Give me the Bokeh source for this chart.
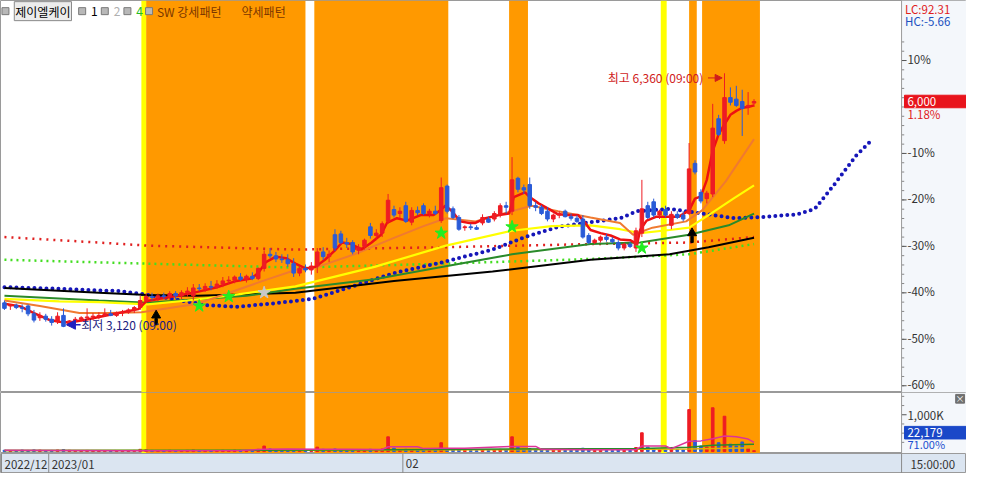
from bokeh.plotting import figure
from bokeh.models import Range1d, BoxAnnotation, Label, Arrow, NormalHead, ColumnDataSource, Span
from bokeh.layouts import column
from bokeh.embed import file_html
from bokeh.resources import INLINE
from bokeh.core.properties import value

# ---------------- data ----------------
opens = [3430, 3390, 3400, 3370, 3390, 3290, 3240, 3260, 3220, 3190,
         3270, 3140, 3200, 3220, 3240, 3250, 3260, 3270, 3290, 3270,
         3300, 3310, 3340, 3370, 3460, 3510, 3500, 3520, 3510, 3550,
         3520, 3560, 3520, 3620, 3610, 3640, 3630, 3670, 3710, 3720,
         3760, 3730, 3770, 3740, 3870, 4050, 4030, 3990, 3980, 3930,
         3810, 3870, 3850, 3900, 4080, 4020, 4300, 4310, 4200, 4200,
         4100, 4150, 4400, 4290, 4320, 4470, 4620, 4570, 4670, 4460,
         4610, 4670, 4570, 4600, 4480, 4920, 4630, 4520, 4390, 4400,
         4390, 4450, 4500, 4500, 4550, 4670, 4600, 5020, 4900, 4940,
         4670, 4650, 4600, 4500, 4550, 4600, 4530, 4510, 4500, 4290,
         4200, 4230, 4270, 4240, 4200, 4130, 4180, 4130, 4320, 4670,
         4720, 4550, 4620, 4420, 4560, 4550, 4570, 5210, 4840, 4760,
         4820, 5780, 5500, 6050, 6030, 6000, 5930, 5980]
highs = [3460, 3410, 3420, 3410, 3410, 3340, 3310, 3290, 3260, 3310,
         3360, 3210, 3250, 3260, 3360, 3300, 3310, 3360, 3340, 3320,
         3340, 3360, 3390, 3520, 3550, 3560, 3550, 3560, 3580, 3580,
         3590, 3630, 3670, 3670, 3680, 3710, 3720, 3760, 3770, 3780,
         3810, 3790, 3820, 3880, 4100, 4130, 4080, 4050, 4050, 4000,
         3900, 3920, 3950, 4130, 4140, 4100, 4370, 4350, 4260, 4230,
         4180, 4250, 4450, 4370, 4470, 4820, 4670, 4650, 4720, 4650,
         4660, 4700, 4630, 4670, 5030, 4940, 4660, 4550, 4420, 4440,
         4420, 4560, 4530, 4600, 4700, 4720, 5290, 5040, 4940, 5030,
         4720, 4680, 4650, 4570, 4600, 4620, 4570, 4550, 4550, 4320,
         4250, 4290, 4310, 4270, 4230, 4200, 4210, 4390, 5000, 4720,
         4760, 4620, 4670, 4600, 4600, 4600, 5470, 5250, 4880, 4860,
         5970, 5830, 6360, 6180, 6200, 6150, 6120, 6030]
lows = [3340, 3340, 3350, 3310, 3260, 3180, 3200, 3190, 3140, 3160,
        3120, 3130, 3160, 3190, 3210, 3210, 3220, 3250, 3260, 3250,
        3260, 3290, 3300, 3340, 3430, 3460, 3450, 3480, 3470, 3480,
        3480, 3510, 3460, 3580, 3570, 3590, 3610, 3630, 3670, 3680,
        3710, 3690, 3720, 3720, 3830, 4000, 3950, 3940, 3890, 3760,
        3770, 3820, 3790, 3810, 3980, 3950, 4090, 4180, 4130, 4050,
        4050, 4110, 4250, 4230, 4270, 4440, 4520, 4510, 4450, 4420,
        4550, 4550, 4520, 4550, 4450, 4570, 4500, 4350, 4350, 4360,
        4360, 4420, 4450, 4470, 4520, 4570, 4550, 4840, 4820, 4630,
        4600, 4550, 4470, 4460, 4510, 4520, 4480, 4450, 4250, 4180,
        4180, 4200, 4210, 4190, 4100, 4100, 4130, 4080, 4270, 4500,
        4520, 4500, 4520, 4370, 4500, 4470, 4550, 5070, 4700, 4700,
        4780, 5560, 5460, 5950, 5930, 5560, 5830, 5930]
closes = [3360, 3400, 3370, 3360, 3290, 3210, 3270, 3220, 3180, 3260,
          3130, 3200, 3220, 3240, 3250, 3260, 3270, 3290, 3270, 3300,
          3310, 3340, 3370, 3460, 3510, 3500, 3520, 3510, 3550, 3520,
          3560, 3580, 3620, 3610, 3640, 3630, 3670, 3710, 3720, 3760,
          3730, 3770, 3740, 3870, 4050, 4030, 3990, 3980, 3930, 3810,
          3870, 3850, 3900, 4080, 4020, 4050, 4130, 4200, 4180, 4080,
          4140, 4230, 4290, 4320, 4440, 4740, 4550, 4600, 4470, 4610,
          4580, 4570, 4600, 4570, 4900, 4600, 4520, 4370, 4400, 4390,
          4370, 4520, 4460, 4570, 4670, 4650, 5000, 4880, 4870, 4670,
          4650, 4570, 4500, 4550, 4570, 4530, 4510, 4470, 4270, 4200,
          4230, 4270, 4240, 4210, 4130, 4180, 4150, 4350, 4630, 4520,
          4550, 4600, 4550, 4560, 4520, 4500, 5140, 5100, 4730, 4830,
          5660, 5580, 6050, 5990, 5950, 5910, 5950, 6000]
volumes = [35000, 28000, 22000, 40000, 30000, 45000, 38000, 26000, 30000, 42000,
           55000, 33000, 25000, 20000, 30000, 24000, 18000, 22000, 27000, 21000,
           19000, 25000, 30000, 60000, 48000, 30000, 26000, 22000, 35000, 25000,
           28000, 32000, 45000, 30000, 26000, 24000, 30000, 35000, 28000, 40000,
           32000, 30000, 28000, 60000, 150000, 70000, 40000, 35000, 38000, 55000,
           40000, 30000, 35000, 120000, 60000, 40000, 70000, 50000, 35000, 45000,
           30000, 40000, 60000, 40000, 70000, 400000, 90000, 50000, 60000, 55000,
           40000, 45000, 35000, 40000, 240000, 80000, 50000, 60000, 35000, 30000,
           25000, 40000, 30000, 45000, 60000, 40000, 400000, 110000, 60000, 80000,
           50000, 40000, 45000, 35000, 30000, 30000, 28000, 35000, 90000, 50000,
           30000, 35000, 28000, 25000, 40000, 30000, 28000, 110000, 510000, 120000,
           80000, 50000, 45000, 60000, 50000, 40000, 1140000, 300000, 150000, 120000,
           1190000, 240000, 960000, 200000, 150000, 260000, 90000, 22179]

# moving-average lines (bar index, price)
ma5_x = [0, 2.7, 5, 7.7, 9.3, 11, 13.5, 16, 19.3, 22.7, 24, 26, 29.3, 32.7, 36, 39.3, 41.8, 43, 44.3, 46,
         47.7, 49.3, 51, 52.7, 54.3, 56, 57.2, 58.8, 60.5, 62.2, 63.8, 64.8, 66.5, 68.2, 70.5, 72.7, 73.8, 74.7, 75.7, 77.2,
         78.8, 79.8, 81.5, 83.8, 85.5, 86.3, 88.2, 89, 90.5, 92.2, 93.8, 95.5, 97.2, 98.2, 99.3, 101, 102.7, 104.3, 106, 107.2,
         107.7, 108.8, 110.5, 112.7, 114.3, 116, 117, 118, 119, 120, 121, 122, 123, 124, 125, 126, 127]
ma5_p = [3420, 3385, 3300, 3210, 3190, 3180, 3210, 3250, 3300, 3350, 3450, 3480, 3520, 3570, 3630, 3710, 3740, 3810, 3950, 4020,
         4000, 3930, 3870, 3890, 3980, 4100, 4200, 4180, 4110, 4200, 4300, 4450, 4510, 4480, 4550, 4550, 4610, 4670, 4610, 4470,
         4450, 4450, 4510, 4550, 4570, 4780, 4840, 4780, 4700, 4630, 4560, 4550, 4550, 4470, 4360, 4320, 4290, 4240, 4230, 4180,
         4360, 4480, 4530, 4530, 4530, 4610, 4760, 4790, 5000, 5370, 5580, 5710, 5830, 5880, 5920, 5930, 5950]
ma20_x = [0, 6, 12.7, 17.7, 23.2, 27.7, 32.7, 37.7, 43.8, 49.3, 52.7, 59.3, 66, 71, 74.8, 79.8, 86.5, 89.3, 93.8,
          99.3, 104.3, 106.5, 109.8, 115.5, 118.2, 122.2, 127]
ma20_p = [3460, 3390, 3300, 3300, 3310, 3360, 3420, 3550, 3710, 3850, 3880, 4050, 4260, 4410, 4510, 4470, 4610, 4670, 4600,
          4520, 4450, 4300, 4390, 4470, 4610, 4980, 5520]
ma60_x = [0, 9.3, 16, 24.3, 31, 37.7, 49.3, 62.7, 74.8, 86, 92.7, 99.3, 104.3, 107.7, 112.7, 116, 119.3, 123.5, 127]
ma60_p = [3480, 3450, 3440, 3410, 3460, 3520, 3640, 3890, 4160, 4350, 4410, 4420, 4370, 4320, 4360, 4390, 4550, 4760, 4930]
ma120_x = [0, 16, 24.3, 41, 49.3, 62.7, 74.3, 86, 99.3, 107.7, 116, 122.7, 127]
ma120_p = [3520, 3460, 3430, 3520, 3610, 3730, 3890, 4050, 4180, 4200, 4300, 4420, 4570]
ma240_x = [0, 16, 24.3, 32.7, 49.3, 66, 82.7, 99.3, 112.7, 119.3, 127]
ma240_p = [3620, 3560, 3530, 3520, 3560, 3710, 3830, 3980, 4050, 4140, 4260]
span_red_x = [0, 16, 24.3, 49.3, 74.3, 99.3, 116, 127]
span_red_p = [4270, 4200, 4160, 4110, 4140, 4180, 4200, 4270]
span_green_x = [0, 24.3, 49.3, 74.3, 99.3, 116, 127]
span_green_p = [3980, 3930, 3880, 3930, 3990, 4050, 4180]
lead_x = [0, 9.3, 19.3, 22.7, 28.5, 34.3, 39.3, 45.2, 52.2, 57.7, 66, 74.3, 82.7, 88.2, 93.8, 99.3, 104.3, 107.2,
          112.7, 118.2, 123.8, 129.3, 134.3, 137.3, 140.5, 144.3, 146.7]
lead_p = [3630, 3610, 3580, 3550, 3480, 3400, 3380, 3420, 3480, 3610, 3810, 3950, 4110, 4270, 4400, 4460, 4510, 4600,
          4630, 4570, 4510, 4530, 4560, 4630, 4930, 5310, 5490]

# volume averages
vma5_x = [0, 20, 40, 44, 48, 53, 58, 64, 65, 70, 71, 74, 78, 86, 90, 91, 100, 107, 108, 112, 113, 116, 118, 120, 122, 124, 126, 127]
vma5_v = [34000, 25000, 30000, 60000, 70000, 60000, 65000, 55000, 130000, 130000, 80000, 90000, 90000, 140000, 140000, 60000,
          50000, 50000, 150000, 150000, 80000, 280000, 290000, 350000, 420000, 400000, 340000, 250000]
vma20_x = [0, 40, 65, 86, 108, 116, 120, 127]
vma20_v = [30000, 35000, 50000, 70000, 80000, 120000, 170000, 200000]
vma60_x = [0, 60, 100, 116, 127]
vma60_v = [30000, 40000, 55000, 70000, 100000]

# pattern periods (bar index ranges)
strong_start = [24, 52.5, 85.5, 116, 118.2]
strong_end = [51, 75.2, 88.7, 117.3, 128]
weak_start = [23.2, 111.2]
weak_end = [24, 112.2]

# signals
sig_green_x = [33, 38, 74, 86, 108]
sig_green_p = [3390, 3510, 4320, 4400, 4130]
sig_gray_x = [44]
sig_gray_p = [3560]
sig_black_x = [25.7, 116.5]
sig_black_p = [3270, 4320]

hi_idx, hi_price = 122, 6360
lo_idx, lo_price = 10, 3120
base_price = 5930
pct_ticks = [10, -10, -20, -30, -40, -50, -60]
day_change = "1.18%"
lc_text, hc_text = "LC:92.31", "HC:-5.66"
vol_ratio = "71.00%"
vol_ticks = [1000000]
vol_tick_labels = ["1,000K"]
month_labels = ["2022/12", "2023/01", "02"]
month_first_bar = [0, 8, 68]
last_time = "15:00:00"

FONT = "Noto Sans CJK KR"
FS = "11.5px"
X0, XD, XR = -0.67, 152.0, 163.0   # left edge, plot/scale divider, right edge (bar-index units)
Y0, Y1 = 2286, 7289
n = len(closes)
PANEL = "#f4f7fb"


def ix(px):
    return (px - 4) / 6.0


def py(ypx):
    return Y1 - (Y1 - Y0) / 405.0 * ypx


def vy(ypx):
    return (466 - ypx) / 38.0 * 1e6


xr = Range1d(X0, XR)
common = dict(width=966, output_backend="svg", toolbar_location=None, x_axis_location=None,
              y_axis_location=None, min_border_left=0, min_border_right=0, min_border_top=0,
              min_border_bottom=0, background_fill_color="white", border_fill_color="white",
              outline_line_color="#9a9a9a")


def add_bands(fig):
    for s, e in zip(strong_start, strong_end):
        fig.add_layout(BoxAnnotation(left=s, right=e, fill_color="#ff9900", fill_alpha=1,
                                     line_alpha=0, level="underlay"))
    for s, e in zip(weak_start, weak_end):
        fig.add_layout(BoxAnnotation(left=s, right=e, fill_color="#ffff00", fill_alpha=1,
                                     line_alpha=0, level="underlay"))
    fig.add_layout(BoxAnnotation(left=XD, fill_color=PANEL, fill_alpha=1, line_alpha=0, level="underlay"))
    fig.add_layout(Span(location=XD, dimension="height", line_color="#9a9a9a", line_width=1))


def txt(fig, x, y, s, color="#333333", size=FS, align="left"):
    fig.text(x=[x], y=[y], text=[s], text_align=align, text_baseline="middle",
             text_font=value(FONT), text_font_size=size, text_color=color)


# ---------------- main price panel ----------------
p = figure(height=392, x_range=xr, y_range=Range1d(Y0, Y1), **common)
p.grid.visible = False
add_bands(p)

# percent scale on the right
tick_p = [base_price * (1 + v / 100) for v in pct_ticks]
minor_p = [base_price * (1 + v / 100) for v in range(-60, 16, 2)]
p.segment(x0=[XD] * len(minor_p), y0=minor_p, x1=[XD + 0.45] * len(minor_p), y1=minor_p, line_color="#888888")
p.segment(x0=[XD] * len(tick_p), y0=tick_p, x1=[XD + 0.85] * len(tick_p), y1=tick_p, line_color="#555555")
p.text(x=[XD + 1.0] * len(tick_p), y=tick_p, text=["%d%%" % v for v in pct_ticks], text_baseline="middle",
       y_offset=-1.5, text_font=value(FONT), text_font_size=FS, text_color="#333333")

# dotted spans
p.line(span_red_x, span_red_p, line_color="#e02020", line_width=2.5, line_dash="2 5")
p.line(span_green_x, span_green_p, line_color="#44dd22", line_width=2.5, line_dash="2 4")
p.line(lead_x, lead_p, line_color="#1616b8", line_width=4, line_dash="0 6", line_cap="round")
# moving averages
p.line(ma240_x, ma240_p, line_color="#000000", line_width=2)
p.line(ma120_x, ma120_p, line_color="#2a8a2a", line_width=2)
p.line(ma60_x, ma60_p, line_color="#ffff00", line_width=2.2)
p.line(ma20_x, ma20_p, line_color="#f07a30", line_width=2)
p.line(ma5_x, ma5_p, line_color="#ee1111", line_width=2.5)

# candles
colors = ["#ee1c24" if c >= o else "#2a5bd7" for o, c in zip(opens, closes)]
src = ColumnDataSource(dict(x=list(range(n)), h=highs, l=lows,
                            top=[max(o, c) for o, c in zip(opens, closes)],
                            bot=[min(o, c) for o, c in zip(opens, closes)],
                            color=colors, vol=volumes))
p.segment(x0="x", y0="h", x1="x", y1="l", line_color="color", line_width=1, source=src)
p.vbar(x="x", width=0.6, top="top", bottom="bot", fill_color="color", line_color="color", source=src)

# signals
p.scatter(sig_green_x, sig_green_p, marker="star", size=13, fill_color="#22ee22", line_color="#22ee22")
p.scatter(sig_gray_x, sig_gray_p, marker="star", size=13, fill_color="#c8c8c8", line_color="#c8c8c8")
p.vbar(x=sig_black_x, width=0.4, top=[v - 40 for v in sig_black_p], bottom=[v - 120 for v in sig_black_p],
       color="#000000")
p.scatter(sig_black_x, sig_black_p, marker="triangle", size=9, color="#000000")

# high / low annotations
p.add_layout(Label(x=hi_idx - 3.6, y=py(80), text="최고 6,360 (09:00)", text_align="right", text_baseline="middle",
                   text_font=FONT, text_font_size="12px", text_color="#d01c1c"))
p.add_layout(Arrow(end=NormalHead(size=7, fill_color="#d01c1c", line_color="#d01c1c"),
                   x_start=hi_idx - 2.8, y_start=py(80), x_end=hi_idx - 0.4, y_end=py(80),
                   line_color="#d01c1c", line_width=1))
p.add_layout(Label(x=lo_idx + 3.0, y=py(335), text="최저 3,120 (09:00)", text_align="left", text_baseline="middle",
                   text_font=FONT, text_font_size="12px", text_color="#1c1c80"))
p.add_layout(Arrow(end=NormalHead(size=9, fill_color="#2020c0", line_color="#2020c0"),
                   x_start=lo_idx + 2.9, y_start=py(335), x_end=lo_idx + 0.5, y_end=py(335),
                   line_color="#2020c0", line_width=1.5))

# legend row (top-left)
icon_px = [5, 83, 106, 129, 151]
p.scatter([ix(v) for v in icon_px], [py(11)] * len(icon_px), marker="square", size=7,
          fill_color="#b8b8b8", line_color="#7a7a7a")
p.add_layout(Label(x=ix(14), y=py(11), text="제이엘케이", text_baseline="middle", text_font=FONT,
                   text_font_size="12px", text_color="#000000", background_fill_color="#ececec",
                   border_line_color="#8a8a8a", padding=1))
for t, xx, col in [("1", 92, "#000000"), ("2", 115, "#b0b0b0"), ("4", 138, "#22bb22"),
                   ("SW 강세패턴", 159, "#7a3600"), ("약세패턴", 245, "#7a3600")]:
    txt(p, ix(xx), py(11), t, color=col, size="12px")

# right-side texts
txt(p, XD + 0.6, py(9), lc_text, color="#e0201c")
txt(p, XD + 0.6, py(21), hc_text, color="#2050c0")
last = closes[-1]
p.quad(left=[XD + 0.5], right=[XR], top=[last + 80], bottom=[last - 80], fill_color="#e8141c", line_color="#e8141c")
txt(p, XD + 1.0, last, "{:,}".format(last), color="white")
txt(p, XD + 1.0, py(117), day_change, color="#e0201c")

# ---------------- volume panel ----------------
pv = figure(height=61, x_range=xr, y_range=Range1d(-53000, 1605000), **common)
pv.grid.visible = False
add_bands(pv)
pv.vbar(x="x", width=0.45, top="vol", bottom=0, fill_color="color", line_color="color", source=src)
pv.line(vma60_x, vma60_v, line_color="#e0b000", line_width=1.5)
pv.line(vma20_x, vma20_v, line_color="#2a8a2a", line_width=1.5)
pv.line(vma5_x, vma5_v, line_color="#dd3399", line_width=1.5)

vminor = [250000, 500000, 750000, 1250000, 1500000]
pv.segment(x0=[XD] * len(vminor), y0=vminor, x1=[XD + 0.45] * len(vminor), y1=vminor, line_color="#888888")
pv.segment(x0=[XD] * len(vol_ticks), y0=vol_ticks, x1=[XD + 0.85] * len(vol_ticks), y1=vol_ticks,
           line_color="#555555")
pv.text(x=[XD + 1.0] * len(vol_ticks), y=vol_ticks, text=vol_tick_labels, text_baseline="middle",
        text_font=value(FONT), text_font_size=FS, text_color="#333333")
last_vol = volumes[-1]
pv.quad(left=[XD + 0.5], right=[XR], top=[vy(440)], bottom=[vy(453)], fill_color="#1a48c8", line_color="#1a48c8")
txt(pv, XD + 1.0, vy(446.5), "{:,}".format(last_vol), color="white")
txt(pv, XD + 1.0, vy(458), vol_ratio, color="#1c4fd0", size="11px")
pv.quad(left=[ix(971)], right=[ix(980)], top=[vy(407)], bottom=[vy(416)], fill_color="#707070", line_color="#707070")
txt(pv, ix(975.5), vy(411.5), "×", color="white", size="9px", align="center")

# ---------------- time axis strip ----------------
pb = figure(height=20, x_range=xr, y_range=Range1d(0, 1), **common)
pb.background_fill_color = "#dbe5f1"
pb.grid.visible = False
sep = [m - 0.5 for m in month_first_bar] + [XD]
pb.segment(x0=sep, y0=[0] * len(sep), x1=sep, y1=[1] * len(sep), line_color="#8a8a8a")
pb.text(x=[m - 0.5 for m in month_first_bar], y=[0.5] * len(month_labels), text=month_labels, x_offset=3,
        text_baseline="middle", text_font=value(FONT), text_font_size=FS, text_color="#333333")
txt(pb, ix(925), 0.5, last_time)

layout = column(p, pv, pb, spacing=0)
open("out.html", "w").write(file_html(layout, INLINE))
